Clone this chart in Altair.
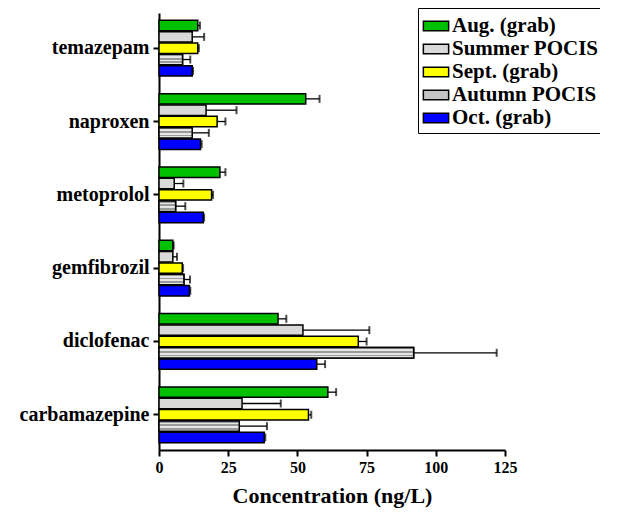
import altair as alt
import pandas as pd

drugs = ["temazepam", "naproxen", "metoprolol", "gemfibrozil", "diclofenac", "carbamazepine"]
series = ["Aug. (grab)", "Summer POCIS", "Sept. (grab)", "Autumn POCIS", "Oct. (grab)"]
colors = ["#00c000", "#d9d9d9", "#ffff00", "#c4c4c4", "#0000ff"]

aug = [14, 53, 22, 5, 43, 61]
aug_err = [0.8, 5, 2, 0.3, 3, 3]
summer = [12, 17, 5.5, 5, 52, 30]
summer_err = [4.3, 11, 3.3, 1.5, 24, 14]
sept = [14, 21, 19, 8.4, 72, 54]
sept_err = [0.4, 3, 0.5, 0.3, 3, 1]
autumn = [8.5, 12, 6, 9, 92, 29]
autumn_err = [2.8, 6, 3.5, 2.2, 30, 10]
octo = [12, 15, 16, 11, 57, 38]
octo_err = [0.3, 0.4, 0.3, 0.3, 3, 0.4]

vals = [aug, summer, sept, autumn, octo]
errs = [aug_err, summer_err, sept_err, autumn_err, octo_err]
rows = []
for s, v, e in zip(series, vals, errs):
    for d, vv, ee in zip(drugs, v, e):
        rows.append({"drug": d, "series": s, "value": vv, "hi": vv + ee})
df = pd.DataFrame(rows)

FONT = "Liberation Serif, Times New Roman, DejaVu Serif, serif"

y_enc = alt.Y("drug:N", sort=drugs, scale=alt.Scale(domain=drugs, paddingInner=0.24, paddingOuter=0.1),
              axis=alt.Axis(title=None, labelFont=FONT, labelFontWeight="bold", labelFontSize=20,
                            labelColor="black", domainColor="black", domainWidth=2, tickColor="black",
                            tickWidth=2, tickSize=6, labelPadding=4))
yoff = alt.YOffset("series:N", sort=series, scale=alt.Scale(domain=series, paddingInner=0.08, paddingOuter=0))
x_enc = alt.X("value:Q", scale=alt.Scale(domain=[0, 125], nice=False),
              axis=alt.Axis(values=[0, 25, 50, 75, 100, 125], title="Concentration (ng/L)", grid=False,
                            labelFont=FONT, labelFontWeight="bold", labelFontSize=16, labelColor="black",
                            titleFont=FONT, titleFontWeight="bold", titleFontSize=22, titleColor="black",
                            titlePadding=10, domainColor="black", domainWidth=2, tickColor="black",
                            tickWidth=2, tickSize=6, labelPadding=3, labelFlush=False))

base = alt.Chart(df)

bars = base.mark_bar(stroke="black", strokeWidth=1.5).encode(
    y=y_enc, yOffset=yoff, x=x_enc,
    color=alt.Color("series:N", sort=series, scale=alt.Scale(domain=series, range=colors),
                    legend=alt.Legend(title=None, orient="none", legendX=259, legendY=-5,
                                      strokeColor="black", fillColor="white", padding=5,
                                      symbolType="M-1.05,-0.4L1.05,-0.4L1.05,0.4L-1.05,0.4Z", symbolSize=580,
                                      symbolStrokeColor="black", symbolStrokeWidth=1.5, symbolOpacity=1,
                                      labelFont=FONT, labelFontWeight="bold", labelFontSize=21,
                                      labelColor="black", labelOffset=3, rowPadding=0, labelLimit=400)),
)

stops = []
n = 6
for i in range(n):
    c = "#9a9a9a" if i % 2 == 0 else "#e6e6e6"
    stops.append(alt.GradientStop(offset=i / n, color=c))
    stops.append(alt.GradientStop(offset=(i + 1) / n, color=c))
stripe = alt.LinearGradient(gradient="linear", stops=stops, x1=0, x2=0, y1=0, y2=1)

autumn_bars = base.transform_filter(alt.datum.series == "Autumn POCIS").mark_bar(
    fill=stripe, stroke="black", strokeWidth=1.5).encode(y=y_enc, yOffset=yoff, x=x_enc)

rules = base.mark_rule(color="black", strokeWidth=1.3).encode(
    y=y_enc, yOffset=yoff, x=x_enc, x2="hi:Q")
caps = base.mark_tick(color="black", thickness=2, size=8, orient="vertical").encode(
    y=y_enc, yOffset=yoff, x=alt.X("hi:Q"))

chart = alt.layer(bars, autumn_bars, rules, caps).properties(
    width=346, height=437,
    autosize=alt.AutoSizeParams(type="none"),
    padding={"left": 151, "top": 5, "right": 95, "bottom": 60},
).configure_view(stroke=None)

chart.save("out.html", embed_options={"renderer": "svg", "actions": False})
